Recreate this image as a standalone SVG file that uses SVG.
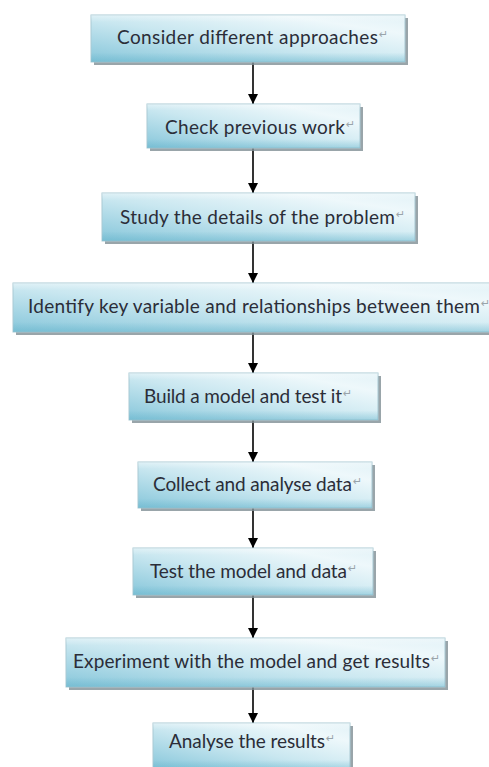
<svg xmlns="http://www.w3.org/2000/svg" width="489" height="767" viewBox="0 0 489 767">
<defs>
<linearGradient id="g" x1="0" y1="1" x2="1" y2="0">
<stop offset="0" stop-color="#86c6da"/>
<stop offset="0.45" stop-color="#c9e7f0"/>
<stop offset="0.8" stop-color="#eef8fb"/>
<stop offset="1" stop-color="#e2f2f7"/>
</linearGradient>
<linearGradient id="gv" x1="0" y1="0" x2="0" y2="1">
<stop offset="0" stop-color="#ffffff" stop-opacity="0.35"/>
<stop offset="0.15" stop-color="#ffffff" stop-opacity="0"/>
<stop offset="0.8" stop-color="#5fb0c8" stop-opacity="0"/>
<stop offset="1" stop-color="#5fb0c8" stop-opacity="0.4"/>
</linearGradient>
<marker id="ah" viewBox="0 0 10 10" refX="10" refY="5" markerWidth="10" markerHeight="10" markerUnits="userSpaceOnUse" orient="auto">
<path d="M0,0 L10,5 L0,10 Z" fill="#000"/>
</marker>
</defs>
<style>
.sh{fill:#7f8e95;opacity:0.8}
.bx{fill:url(#g);stroke:#a9c9d3;stroke-width:1}
.ov{fill:url(#gv)}
.t{font-family:Lato,"Liberation Sans",sans-serif;font-size:19px;fill:#2b2d38}
.rt{font-family:"DejaVu Sans",sans-serif;font-size:11px;fill:#9aa4aa}
.c{stroke:#000;stroke-width:1.6;fill:none;marker-end:url(#ah)}
</style>
<g id="connectors">
<line class="c" x1="253" y1="62" x2="253" y2="104"/>
<line class="c" x1="253" y1="148" x2="253" y2="193"/>
<line class="c" x1="253" y1="241" x2="253" y2="283"/>
<line class="c" x1="253" y1="332" x2="253" y2="373"/>
<line class="c" x1="253" y1="420" x2="253" y2="462"/>
<line class="c" x1="253" y1="508" x2="253" y2="548"/>
<line class="c" x1="253" y1="595" x2="253" y2="638"/>
<line class="c" x1="253" y1="687" x2="253" y2="723"/>
</g>
<g id="n1">
<rect class="sh" x="94" y="18" width="314" height="47"/>
<rect class="bx" x="91" y="15" width="314" height="47"/>
<rect class="ov" x="91" y="15" width="314" height="47"/>
<text class="t" x="117" y="44" textLength="261" lengthAdjust="spacing">Consider different approaches</text>
<text class="rt" x="379" y="38">↵</text>
</g>
<g id="n2">
<rect class="sh" x="150" y="107" width="213" height="44"/>
<rect class="bx" x="147" y="104" width="213" height="44"/>
<rect class="ov" x="147" y="104" width="213" height="44"/>
<text class="t" x="165" y="134" textLength="180" lengthAdjust="spacing">Check previous work</text>
<text class="rt" x="346" y="128">↵</text>
</g>
<g id="n3">
<rect class="sh" x="105" y="196" width="313" height="48"/>
<rect class="bx" x="102" y="193" width="313" height="48"/>
<rect class="ov" x="102" y="193" width="313" height="48"/>
<text class="t" x="120" y="224" textLength="275" lengthAdjust="spacing">Study the details of the problem</text>
<text class="rt" x="396" y="218">↵</text>
</g>
<g id="n4">
<rect class="sh" x="16" y="286" width="482" height="49"/>
<rect class="bx" x="13" y="283" width="482" height="49"/>
<rect class="ov" x="13" y="283" width="482" height="49"/>
<text class="t" x="28" y="313" textLength="452" lengthAdjust="spacing">Identify key variable and relationships between them</text>
<text class="rt" x="481" y="307">↵</text>
</g>
<g id="n5">
<rect class="sh" x="132" y="376" width="249" height="47"/>
<rect class="bx" x="129" y="373" width="249" height="47"/>
<rect class="ov" x="129" y="373" width="249" height="47"/>
<text class="t" x="144" y="403" textLength="198" lengthAdjust="spacing">Build a model and test it</text>
<text class="rt" x="343" y="397">↵</text>
</g>
<g id="n6">
<rect class="sh" x="141" y="465" width="234" height="46"/>
<rect class="bx" x="138" y="462" width="234" height="46"/>
<rect class="ov" x="138" y="462" width="234" height="46"/>
<text class="t" x="153" y="491" textLength="199" lengthAdjust="spacing">Collect and analyse data</text>
<text class="rt" x="353" y="485">↵</text>
</g>
<g id="n7">
<rect class="sh" x="136" y="551" width="240" height="47"/>
<rect class="bx" x="133" y="548" width="240" height="47"/>
<rect class="ov" x="133" y="548" width="240" height="47"/>
<text class="t" x="150" y="578" textLength="197" lengthAdjust="spacing">Test the model and data</text>
<text class="rt" x="348" y="572">↵</text>
</g>
<g id="n8">
<rect class="sh" x="69" y="641" width="379" height="49"/>
<rect class="bx" x="66" y="638" width="379" height="49"/>
<rect class="ov" x="66" y="638" width="379" height="49"/>
<text class="t" x="73" y="668" textLength="357" lengthAdjust="spacing">Experiment with the model and get results</text>
<text class="rt" x="431" y="662">↵</text>
</g>
<g id="n9">
<rect class="sh" x="156" y="726" width="197" height="46"/>
<rect class="bx" x="153" y="723" width="197" height="46"/>
<rect class="ov" x="153" y="723" width="197" height="46"/>
<text class="t" x="169" y="748" textLength="156" lengthAdjust="spacing">Analyse the results</text>
<text class="rt" x="326" y="742">↵</text>
</g>
</svg>
